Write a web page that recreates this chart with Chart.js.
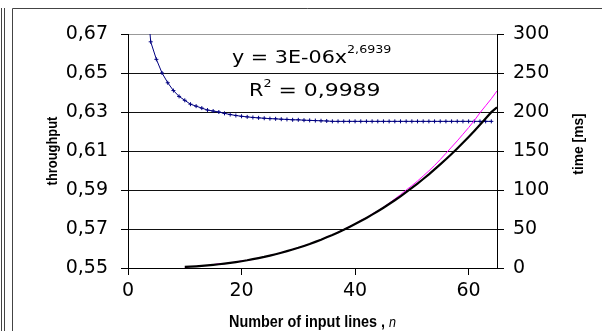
<!DOCTYPE html>
<html>
<head>
<meta charset="utf-8">
<script src="https://cdn.jsdelivr.net/npm/chart.js@4"></script>
<style>
    html, body { margin: 0; padding: 0; background: #fff; }
    #wrap { position: relative; width: 602px; height: 331px; }
</style>
</head>
<body>
<div id="wrap"><canvas id="chart"></canvas></div>
<script>
// throughput (left axis), one point per number of input lines
const nThroughput = [3, 4, 5, 6, 7, 8, 9, 10, 11, 12, 13, 14, 15, 16, 17, 18, 19, 20, 21, 22, 23, 24, 25, 26, 27, 28, 29, 30, 31, 32, 33, 34, 35,
    36, 37, 38, 39, 40, 41, 42, 43, 44, 45, 46, 47, 48, 49, 50, 51, 52, 53, 54, 55, 56, 57, 58, 59, 60, 61, 62, 63, 64];
const throughput = [0.700, 0.666, 0.657, 0.650, 0.645, 0.641, 0.638, 0.636, 0.634, 0.633, 0.632, 0.631, 0.6305, 0.630, 0.6293, 0.6287, 0.6282,
    0.6278, 0.6275, 0.6272, 0.627, 0.6268, 0.6266, 0.6265, 0.6263, 0.6262, 0.626, 0.626, 0.6258, 0.6257, 0.6256, 0.6255, 0.6254,
    0.6252, 0.6252, 0.6252, 0.6252, 0.6252, 0.6252, 0.6252, 0.6252, 0.6252, 0.6252, 0.6252, 0.6252, 0.6252, 0.6252, 0.6252, 0.6252,
    0.6252, 0.6252, 0.6252, 0.6252, 0.6252, 0.6252, 0.6252, 0.6252, 0.6252, 0.6252, 0.6252, 0.6252, 0.6252];

// time in ms (right axis)
const nTime = [10, 11, 12, 13, 14, 15, 16, 17, 18, 19, 20, 21, 22, 23, 24, 25, 26, 27, 28, 29, 30, 31, 32, 33, 34, 35, 36, 37,
    38, 39, 40, 41, 42, 43, 44, 45, 46, 47, 48, 49, 50, 51, 52, 53, 54, 55, 56, 57, 58, 59, 60, 61, 62, 63, 64, 65];
const timeBlack = [1.35, 1.7, 2.2, 2.7, 3.3, 4.0, 4.8, 5.7, 6.6, 7.6, 8.7, 9.9, 11.3, 12.7, 14.2, 15.9, 17.7, 19.6, 21.6, 23.7,
    25.9, 28.3, 30.8, 33.5, 36.3, 39.3, 42.3, 45.6, 49.0, 52.6, 56.3, 60.2, 64.2, 68.4, 72.8, 77.3, 82.0, 86.9, 91.9, 97.2,
    102.7, 108.3, 114.1, 120.1, 126.4, 132.8, 139.4, 146.2, 153.2, 160.5, 167.9, 175.6, 183.5, 191.6, 199.8, 206.0];
const timeMagenta = [0.3, 1.9, 2.0, 3.2, 3.1, 4.3, 5.5, 5.5, 6.8, 7.5, 9.3, 9.8, 11.0, 13.0, 14.0, 16.2, 17.4, 19.9, 21.3, 23.9,
    25.6, 28.6, 30.5, 33.8, 36.0, 39.8, 42.2, 46.0, 49.0, 53.2, 56.4, 61.0, 64.3, 69.2, 73.2, 78.0, 83.0, 88.5, 94.0, 100.0,
    105.5, 111.5, 118.0, 124.5, 131.5, 139.0, 147.0, 155.0, 163.0, 171.5, 180.0, 189.0, 199.0, 208.0, 217.0, 227.0];

const xTicks = [0, 20, 40, 60];
const leftTicks = [0.55, 0.57, 0.59, 0.61, 0.63, 0.65, 0.67];
const rightTicks = [0, 50, 100, 150, 200, 250, 300];

const tickFont = { family: 'DejaVu Sans', size: 19 };

function pairs(xs, ys) {
    return xs.map((x, i) => ({ x: x, y: ys[i] }));
}

// draws text squeezed or stretched along its own direction
function drawText(ctx, text, x, y, font, sx, rot) {
    ctx.save();
    ctx.font = font;
    ctx.translate(x, y);
    if (rot) ctx.rotate(rot);
    ctx.scale(sx, 1);
    ctx.fillText(text, 0, 0);
    const w = ctx.measureText(text).width * sx;
    ctx.restore();
    return w;
}

const decor = {
    id: 'decor',
    beforeDraw(chart) {
        const ctx = chart.ctx;
        ctx.save();
        ctx.strokeStyle = '#444';
        ctx.lineWidth = 1;
        ctx.beginPath();
        ctx.moveTo(1.5, 8); ctx.lineTo(1.5, 331);
        ctx.moveTo(4.5, 8); ctx.lineTo(4.5, 331);
        ctx.moveTo(12.5, 331); ctx.lineTo(12.5, 8.5); ctx.lineTo(602, 8.5);
        ctx.stroke();
        ctx.restore();
    },
    afterDraw(chart) {
        const ctx = chart.ctx;
        const area = chart.chartArea;
        ctx.save();
        ctx.fillStyle = '#000';
        ctx.textBaseline = 'alphabetic';

        // axis titles
        ctx.textAlign = 'center';
        drawText(ctx, 'throughput', 57, (area.top + area.bottom) / 2, 'bold 15px "Liberation Sans"', 0.86, -Math.PI / 2);
        drawText(ctx, 'time [ms]', 583, 144, 'bold 15px "Liberation Sans"', 0.92, -Math.PI / 2);

        // x title with italic n
        ctx.textAlign = 'left';
        const t1 = 'Number of input lines , ';
        const fBold = 'bold 16px "Liberation Sans"';
        const fItal = 'italic 14px "Liberation Sans"';
        ctx.font = fBold;
        const w1 = ctx.measureText(t1).width * 0.9;
        ctx.font = fItal;
        const w2 = ctx.measureText('n').width * 0.9;
        const x0 = (area.left + area.right) / 2 - (w1 + w2) / 2;
        drawText(ctx, t1, x0, 327, fBold, 0.9);
        drawText(ctx, 'n', x0 + w1, 327, fItal, 0.9);

        // trendline equation
        const fEq = '18px "DejaVu Sans"';
        const fSup = '11px "DejaVu Sans"';
        const sx = 1.15;
        let x = 232;
        x += drawText(ctx, 'y = 3E-06x', x, 63, fEq, sx);
        drawText(ctx, '2,6939', x, 53, fSup, sx);

        x = 249;
        x += drawText(ctx, 'R', x, 96, fEq, sx);
        x += drawText(ctx, '2', x, 87, fSup, sx);
        drawText(ctx, ' = 0,9989', x, 96, fEq, sx * 1.06);
        ctx.restore();
    }
};

const ctx = document.getElementById('chart').getContext('2d');
const chart = new Chart(ctx, {
    type: 'line',
    data: {
        datasets: [
            {
                label: 'time',
                data: pairs(nTime, timeBlack),
                yAxisID: 'y2',
                borderColor: '#000',
                borderWidth: 2.2,
                pointRadius: 0,
                tension: 0,
                order: 0
            },
            {
                label: 'time trend',
                data: pairs(nTime, timeMagenta),
                yAxisID: 'y2',
                borderColor: '#ff00ff',
                borderWidth: 1,
                pointRadius: 0,
                tension: 0,
                order: 1
            },
            {
                label: 'throughput',
                data: pairs(nThroughput, throughput),
                yAxisID: 'y',
                borderColor: '#000080',
                backgroundColor: '#000080',
                borderWidth: 1,
                pointStyle: 'cross',
                pointRadius: 2,
                pointBorderWidth: 1,
                tension: 0,
                order: 2
            }
        ]
    },
    options: {
        responsive: true,
        maintainAspectRatio: false,
        animation: false,
        events: [],
        layout: { padding: { top: 34, left: 0, right: 0, bottom: 0 } },
        plugins: { legend: { display: false }, tooltip: { enabled: false } },
        scales: {
            x: {
                type: 'linear',
                min: 0,
                max: 65,
                afterBuildTicks: s => { s.ticks = xTicks.map(v => ({ value: v })); },
                afterFit: s => { s.height = 63; },
                grid: { drawOnChartArea: false, drawTicks: true, tickLength: 7, color: '#000' },
                border: { color: '#000', width: 1 },
                ticks: { font: tickFont, color: '#000', padding: 5, maxRotation: 0 }
            },
            y: {
                position: 'left',
                min: 0.55,
                max: 0.67,
                afterBuildTicks: s => { s.ticks = leftTicks.map(v => ({ value: v })); },
                afterFit: s => { s.width = 128; },
                grid: {
                    tickLength: 7,
                    color: c => (c.tick && c.tick.value === 0.67 ? '#999' : '#111'),
                    tickColor: '#000'
                },
                border: { color: '#000', width: 1 },
                ticks: {
                    font: tickFont, color: '#000', padding: 13,
                    callback: v => v.toFixed(2).replace('.', ',')
                }
            },
            y2: {
                position: 'right',
                min: 0,
                max: 300,
                afterBuildTicks: s => { s.ticks = rightTicks.map(v => ({ value: v })); },
                afterFit: s => { s.width = 105; },
                grid: { drawOnChartArea: false, tickLength: 7, color: '#000' },
                border: { color: '#000', width: 1 },
                ticks: { font: tickFont, color: '#000', padding: 9 }
            }
        }
    },
    plugins: [decor]
});
</script>
</body>
</html>
